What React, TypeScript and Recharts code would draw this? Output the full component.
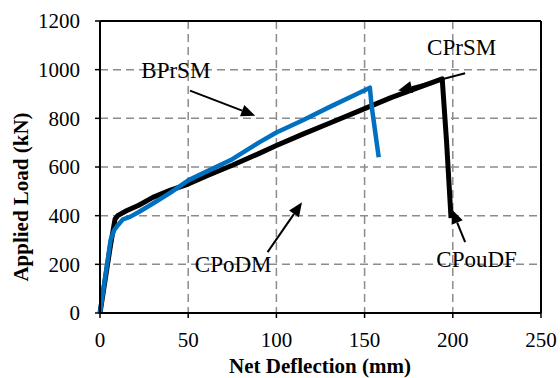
import React from 'react';
import { LineChart, Line, XAxis, YAxis, CartesianGrid, ReferenceLine, ReferenceDot, Label } from 'recharts';

// CPrSM (black) load-deflection curve
const cprsmDeflection = [0, 3, 6, 8.5, 10, 15, 22, 30, 40, 50, 60, 75, 90, 100, 115, 130, 150, 165, 180, 194, 196.5, 199];
const cprsmLoad = [0, 140, 280, 385, 400, 420, 443, 475, 505, 530, 562, 607, 655, 688, 735, 780, 840, 885, 925, 962, 700, 390];

// BPrSM (blue) load-deflection curve
const bprsmDeflection = [0, 3, 6, 8, 10, 13, 17, 22, 30, 40, 50, 60, 75, 90, 100, 115, 130, 145, 153, 154, 158];
const bprsmLoad = [0, 150, 300, 340, 360, 385, 395, 415, 450, 495, 545, 580, 632, 700, 742, 792, 846, 898, 926, 850, 640];

const xTicks = [0, 50, 100, 150, 200, 250];
const yTicks = [0, 200, 400, 600, 800, 1000, 1200];

// annotation text and arrows [label, textX, textY, fromX, fromY, toX, toY]
const notes: [string, number, number, number, number, number, number][] = [
  ['BPrSM', 43, 996, 51, 914, 88, 811],
  ['CPrSM', 205, 1090, 207, 985, 169, 914],
  ['CPoDM', 75.5, 201, 95, 250, 114.5, 455],
  ['CPouDF', 213.5, 219, 207, 291, 199.5, 425],
];

const cprsmData = cprsmDeflection.map((x, i) => ({ x, y: cprsmLoad[i] }));
const bprsmData = bprsmDeflection.map((x, i) => ({ x, y: bprsmLoad[i] }));

const FONT = '"Liberation Serif", "Times New Roman", serif';

const Arrow = (props: any) => {
  const { x1, y1, x2, y2 } = props;
  const a = Math.atan2(y2 - y1, x2 - x1);
  const len = 14;
  const w = 6;
  const bx = x2 - len * Math.cos(a);
  const by = y2 - len * Math.sin(a);
  const px = -Math.sin(a) * w;
  const py = Math.cos(a) * w;
  return (
    <g>
      <line x1={x1} y1={y1} x2={bx} y2={by} stroke="#000" strokeWidth={2} />
      <polygon points={`${x2},${y2} ${bx + px},${by + py} ${bx - px},${by - py}`} fill="#000" />
    </g>
  );
};

const NoteText = (text: string) => (props: any) => (
  <text x={props.cx} y={props.cy} dy="0.33em" textAnchor="middle" fontFamily={FONT} fontSize={23} fill="#000">
    {text}
  </text>
);

const App = () => {
  return (
    <div style={{ position: 'absolute', left: 0, top: 0, background: '#fff' }}>
      <LineChart width={560} height={378} margin={{ top: 21, right: 19, left: 0, bottom: 0 }}>
        <CartesianGrid stroke="#8c8c8c" strokeWidth={1.5} strokeDasharray="8 5" />
        <XAxis
          type="number"
          dataKey="x"
          domain={[0, 250]}
          ticks={xTicks}
          height={65}
          tickSize={5}
          tickMargin={14}
          axisLine={{ stroke: '#000', strokeWidth: 2 }}
          tickLine={{ stroke: '#000', strokeWidth: 1.5 }}
          tick={{ fontFamily: FONT, fontSize: 21, fill: '#000' }}
        >
          <Label
            content={() => (
              <text
                x={320}
                y={373}
                textAnchor="middle"
                fontFamily={FONT}
                fontSize={21}
                fontWeight="bold"
                fill="#000"
              >
                Net Deflection (mm)
              </text>
            )}
          />
        </XAxis>
        <YAxis
          type="number"
          domain={[0, 1200]}
          ticks={yTicks}
          width={100}
          tickSize={5}
          tickMargin={15}
          axisLine={{ stroke: '#000', strokeWidth: 2 }}
          tickLine={{ stroke: '#000', strokeWidth: 1.5 }}
          tick={{ fontFamily: FONT, fontSize: 21, fill: '#000' }}
        >
          <Label
            content={() => (
              <text
                x={21}
                y={197}
                transform="rotate(-90 21 197)"
                dy="0.33em"
                textAnchor="middle"
                fontFamily={FONT}
                fontSize={21}
                fontWeight="bold"
                fill="#000"
              >
                Applied Load (kN)
              </text>
            )}
          />
        </YAxis>
        <ReferenceLine y={1200} stroke="#000" strokeWidth={2} />
        <ReferenceLine x={250} stroke="#000" strokeWidth={2} />
        <Line
          data={cprsmData}
          dataKey="y"
          stroke="#000000"
          strokeWidth={5}
          dot={false}
          isAnimationActive={false}
          strokeLinejoin="round"
        />
        <Line
          data={bprsmData}
          dataKey="y"
          stroke="#0070C0"
          strokeWidth={4.5}
          dot={false}
          isAnimationActive={false}
          strokeLinejoin="round"
        />
        {notes.map(([t, tx, ty, fx, fy, ax, ay]) => (
          <ReferenceLine
            key={`arrow-${t}`}
            segment={[{ x: fx, y: fy }, { x: ax, y: ay }]}
            shape={Arrow}
          />
        ))}
        {notes.map(([t, tx, ty]) => (
          <ReferenceDot key={`text-${t}`} x={tx} y={ty} r={0} shape={NoteText(t)} />
        ))}
      </LineChart>
    </div>
  );
};

export default App;
